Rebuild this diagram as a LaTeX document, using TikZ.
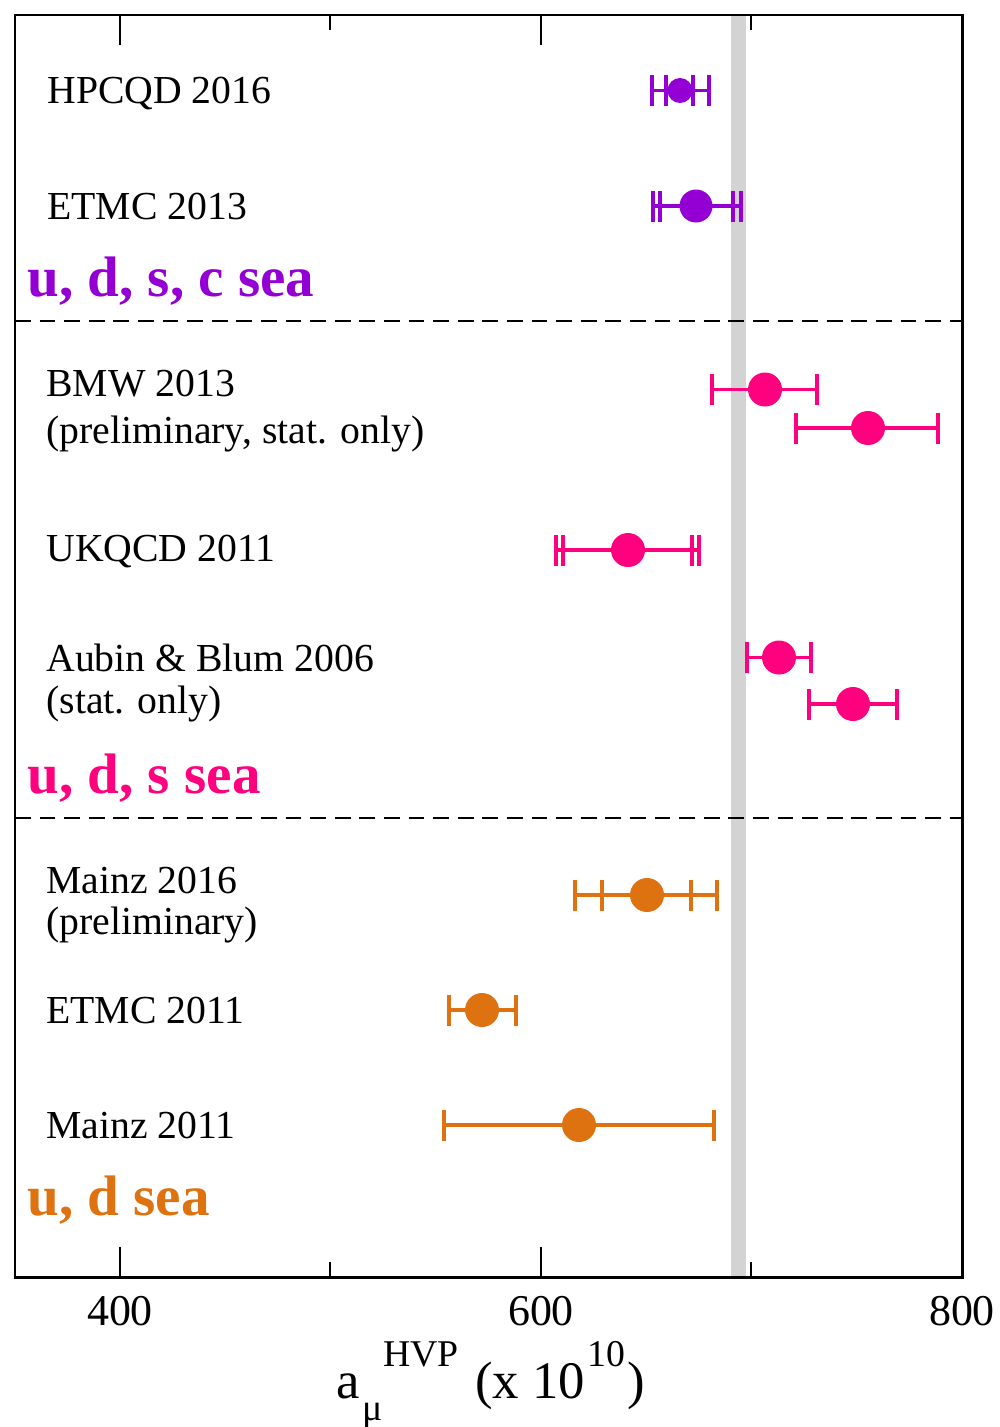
\documentclass[tikz,border=0pt]{standalone}
\usepackage{fontspec}
\setmainfont{Liberation Serif}
\definecolor{cpurple}{HTML}{9400D3}
\definecolor{cpink}{HTML}{FF007F}
\definecolor{corange}{HTML}{DE7210}
\definecolor{cband}{HTML}{D3D3D3}
\newcommand\errbar[4]{%
  \draw[#1, bar] (#3) -- (#4);}
\newcommand\caps[3]{%
  \foreach \c in {#3} \draw[#1, bar] (\c,#2-15.5) -- (\c,#2+15.5);}
\begin{document}
\begin{tikzpicture}[x=0.02cm,y=-0.02cm,
  bar/.style={line width=2.1pt},
  dot/.style={circle, inner sep=0pt, minimum size=0.68cm},
  lab/.style={anchor=base west, inner sep=0pt, font=\fontsize{22.6pt}{26pt}\selectfont},
  grp/.style={anchor=base west, inner sep=0pt, font=\fontsize{32.5pt}{36pt}\selectfont\bfseries},
  tick/.style={anchor=base, inner sep=0pt, font=\fontsize{25pt}{28pt}\selectfont},
  axl/.style={anchor=base west, inner sep=0pt, font=\fontsize{30pt}{34pt}\selectfont},
  axs/.style={anchor=base west, inner sep=0pt, font=\fontsize{21.5pt}{25pt}\selectfont}]
\useasboundingbox (0,0) rectangle (1000,1427);
% band
\fill[cband] (731,15) rectangle (746,1277);
% frame
\draw[line width=1.7pt] (15,15) rectangle (962,1277);
% ticks
\foreach \x in {120,541} {\draw[line width=1pt] (\x,15) -- (\x,45); \draw[line width=1pt] (\x,1277) -- (\x,1247);}
\foreach \x in {330,751} {\draw[line width=1pt] (\x,15) -- (\x,30); \draw[line width=1pt] (\x,1277) -- (\x,1262);}
\node[tick] (t400) at (120,1325) {400};
\node[tick] (t600) at (541,1325) {600};
\node[tick] (t800) at (962,1325) {800};
% axis label
\node[axl] (xa) at (336,1398) {a};
\node[axs] (xmu) at (362,1420) {μ};
\node[axs] (xhvp) at (383,1366) {HVP};
\node[axl] (xpar) at (475,1398) {(x 10};
\node[axs] (xten) at (587,1366) {10};
\node[axl] (xcl) at (627,1398) {)};
% dashed separators
\draw[dashed, dash pattern=on 9pt off 5pt, line width=1pt] (15,321) -- (962,321);
\draw[dashed, dash pattern=on 9pt off 5pt, line width=1pt] (15,818) -- (962,818);
% labels
\node[lab] (l1) at (47,103) {HPCQD 2016};
\node[lab] (l2) at (47,219) {ETMC 2013};
\node[grp, text=cpurple] (g1) at (27,296) {u, d, s, c sea};
\node[lab] (l3) at (46,396) {BMW 2013};
\node[lab] (l3b) at (46,443) {(preliminary, stat. only)};
\node[lab] (l4) at (46,561) {UKQCD 2011};
\node[lab] (l5) at (46,671) {Aubin \& Blum 2006};
\node[lab] (l5b) at (46,713) {(stat. only)};
\node[grp, text=cpink] (g2) at (27,793) {u, d, s sea};
\node[lab] (l6) at (46,893) {Mainz 2016};
\node[lab] (l6b) at (46,934) {(preliminary)};
\node[lab] (l7) at (46,1023) {ETMC 2011};
\node[lab] (l8) at (46,1138) {Mainz 2011};
\node[grp, text=corange] (g3) at (27,1215) {u, d sea};
% data: HPQCD 2016
\coordinate (a1) at (652,90.5); \coordinate (b1) at (709,90.5);
\errbar{cpurple}{}{a1}{b1}
\caps{cpurple}{90.5}{652,666,693,709}
\node[dot, fill=cpurple, minimum size=0.5cm] (p1) at (680,90.5) {};
% ETMC 2013
\coordinate (a2) at (653,206); \coordinate (b2) at (741,206);
\errbar{cpurple}{}{a2}{b2}
\caps{cpurple}{206}{653,660,733,741}
\node[dot, fill=cpurple, minimum size=0.66cm] (p2) at (696,206) {};
% BMW 2013
\coordinate (a3) at (712,389.5); \coordinate (b3) at (817,389.5);
\errbar{cpink}{}{a3}{b3}
\caps{cpink}{389.5}{712,817}
\node[dot, fill=cpink] (p3) at (765,389.5) {};
\coordinate (a4) at (796,428); \coordinate (b4) at (938,428);
\errbar{cpink}{}{a4}{b4}
\caps{cpink}{428}{796,938}
\node[dot, fill=cpink] (p4) at (868,428) {};
% UKQCD 2011
\coordinate (a5) at (556,550); \coordinate (b5) at (699,550);
\errbar{cpink}{}{a5}{b5}
\caps{cpink}{550}{556,563,692,699}
\node[dot, fill=cpink] (p5) at (628,550) {};
% Aubin & Blum
\coordinate (a6) at (747,657.5); \coordinate (b6) at (811,657.5);
\errbar{cpink}{}{a6}{b6}
\caps{cpink}{657.5}{747,811}
\node[dot, fill=cpink] (p6) at (779,657.5) {};
\coordinate (a7) at (809,704); \coordinate (b7) at (897,704);
\errbar{cpink}{}{a7}{b7}
\caps{cpink}{704}{809,897}
\node[dot, fill=cpink] (p7) at (853,704) {};
% Mainz 2016
\coordinate (a8) at (575,895); \coordinate (b8) at (717,895);
\errbar{corange}{}{a8}{b8}
\caps{corange}{895}{575,602,691,717}
\node[dot, fill=corange] (p8) at (647,895) {};
% ETMC 2011
\coordinate (a9) at (449,1010); \coordinate (b9) at (516,1010);
\errbar{corange}{}{a9}{b9}
\caps{corange}{1010}{449,516}
\node[dot, fill=corange] (p9) at (482,1010) {};
% Mainz 2011
\coordinate (a10) at (444,1125); \coordinate (b10) at (714,1125);
\errbar{corange}{}{a10}{b10}
\caps{corange}{1125}{444,714}
\node[dot, fill=corange] (p10) at (579,1125) {};
\end{tikzpicture}
\end{document}
